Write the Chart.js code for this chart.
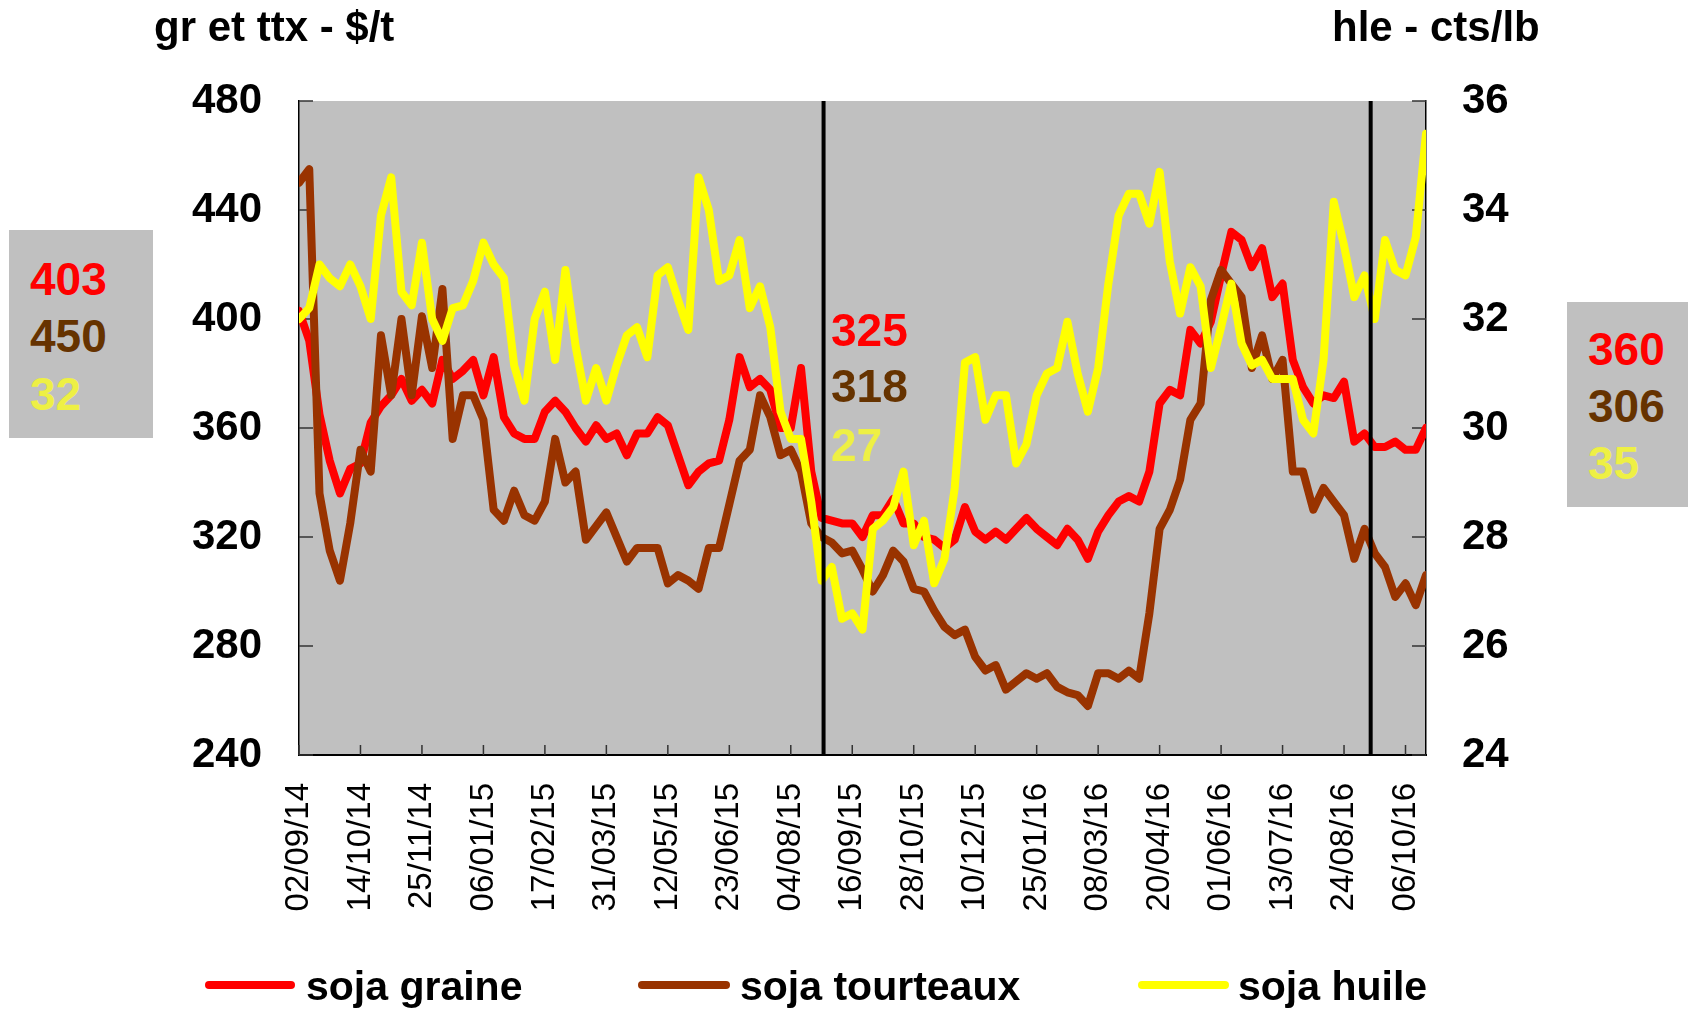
<!DOCTYPE html>
<html>
<head>
<meta charset="utf-8">
<script src="https://cdn.jsdelivr.net/npm/chart.js@4.4.0/dist/chart.umd.min.js"></script>
<style>
  body { margin: 0; background: #fff; font-family: 'Liberation Sans', Arial, sans-serif; }
  #wrap { position: relative; width: 1688px; height: 1010px; overflow: hidden; }
  canvas { position: absolute; left: 0; top: 0; }
  .t { position: absolute; font-weight: bold; line-height: 1; white-space: nowrap; }
  .title { font-size: 42px; color: #000; }
  .val { font-size: 46px; }
  .box { position: absolute; background: #c0c0c0; }
  .sw { position: absolute; height: 8px; border-radius: 4px; }
  .leg { font-size: 41px; color: #000; }
</style>
</head>
<body>
<div id="wrap">
  <canvas id="c" width="1688" height="1010"></canvas>
  <div class="box" style="left:9px;top:230px;width:144px;height:208px"></div>
  <div class="box" style="left:1567px;top:302px;width:121px;height:205px"></div>
  <div class="t title" style="left:154px;top:6px">gr et ttx - $/t</div>
  <div class="t title" style="left:1332px;top:6px">hle - cts/lb</div>
  <div id="labels"></div>
  <div class="sw" style="left:205px;top:981px;width:90px;background:#ff0000"></div>
  <div class="t leg" style="left:306px;top:966px">soja graine</div>
  <div class="sw" style="left:638px;top:981px;width:92px;background:#993300"></div>
  <div class="t leg" style="left:740px;top:966px">soja tourteaux</div>
  <div class="sw" style="left:1138px;top:981px;width:91px;background:#ffff00"></div>
  <div class="t leg" style="left:1238px;top:966px">soja huile</div>
</div>
<script>
// business-day index, one tick label every 30 sessions
const tickLabels = ['02/09/14', '14/10/14', '25/11/14', '06/01/15', '17/02/15', '31/03/15', '12/05/15',
  '23/06/15', '04/08/15', '16/09/15', '28/10/15', '10/12/15', '25/01/16', '08/03/16', '20/04/16',
  '01/06/16', '13/07/16', '24/08/16', '06/10/16'];
const step = 5; // one value read every 5 sessions
const lastIdx = 550;

// soja graine - $/t
const graine = [403, 392, 365, 348, 336, 345, 347, 362, 368, 372,
  378, 370, 374, 369, 385, 378, 381, 385, 372, 386,
  364, 358, 356, 356, 366, 370, 366, 360, 355, 361,
  356, 358, 350, 358, 358, 364, 361, 350, 339, 344,
  347, 348, 363, 386, 375, 378, 374, 360, 360, 382,
  344, 327, 326, 325, 325, 320, 328, 328, 334, 325,
  325, 320, 319, 316, 319, 331, 322, 319, 322, 319,
  323, 327, 323, 320, 317, 323, 319, 312, 322, 328,
  333, 335, 333, 344, 369, 374, 372, 396, 391, 399,
  416, 432, 429, 419, 426, 408, 413, 385, 375, 369,
  372, 371, 377, 355, 358, 353, 353, 355, 352, 352,
  360];

// soja tourteaux - $/t
const tourteaux = [450, 455, 336, 315, 304, 325, 352, 344, 394, 372,
  400, 372, 401, 382, 411, 356, 372, 372, 363, 330,
  326, 337, 328, 326, 333, 356, 340, 344, 319, 324,
  329, 320, 311, 316, 316, 316, 303, 306, 304, 301,
  316, 316, 332, 348, 352, 372, 364, 350, 352, 344,
  325, 320, 318, 314, 315, 308, 300, 306, 315, 311,
  301, 300, 293, 287, 284, 286, 276, 271, 273, 264,
  267, 270, 268, 270, 265, 263, 262, 258, 270, 270,
  268, 271, 268, 292, 323, 330, 341, 363, 369, 407,
  418, 413, 408, 382, 394, 378, 385, 344, 344, 330,
  338, 333, 328, 312, 323, 314, 309, 298, 303, 295,
  306];

// soja huile - cts/lb
const huile = [32.0, 32.2, 33.0, 32.75, 32.6, 33.0, 32.6, 32.0, 33.9, 34.6,
  32.5, 32.25, 33.4, 32.0, 31.6, 32.2, 32.25, 32.7, 33.4, 33.0,
  32.75, 31.15, 30.5, 32.0, 32.5, 31.25, 32.9, 31.5, 30.5, 31.1,
  30.5, 31.15, 31.7, 31.85, 31.3, 32.8, 32.95, 32.35, 31.8, 34.6,
  34.0, 32.7, 32.8, 33.45, 32.2, 32.6, 31.85, 30.3, 29.8, 29.8,
  28.65, 27.2, 27.45, 26.5, 26.6, 26.3, 28.15, 28.3, 28.55, 29.2,
  27.85, 28.3, 27.15, 27.6, 28.9, 31.2, 31.3, 30.15, 30.6, 30.6,
  29.35, 29.7, 30.6, 31.0, 31.1, 31.95, 31.0, 30.3, 31.1, 32.65,
  33.9, 34.3, 34.3, 33.75, 34.7, 33.05, 32.1, 32.95, 32.6, 31.1,
  31.85, 32.65, 31.55, 31.15, 31.25, 30.9, 30.9, 30.9, 30.15, 29.9,
  31.25, 34.15, 33.35, 32.4, 32.8, 32.0, 33.45, 32.9, 32.8, 33.5,
  35.4];

// start of campaigns (session index)
const eventIdx = [256, 523];

// values printed beside the chart: start, campaign start, last
const startVals = ['403', '450', '32'];
const midVals = ['325', '318', '27'];
const endVals = ['360', '306', '35'];
const valColors = ['#ff0000', '#663300', '#eef044'];

const labelsDiv = document.getElementById('labels');
const addVals = (vals, left, tops) => {
  vals.forEach((v, k) => {
    const d = document.createElement('div');
    d.className = 't val';
    d.style.left = left + 'px';
    d.style.top = tops[k] + 'px';
    d.style.color = valColors[k];
    d.textContent = v;
    labelsDiv.appendChild(d);
  });
};
addVals(startVals, 30, [256, 313, 371]);
addVals(midVals, 831, [307, 363, 422]);
addVals(endVals, 1588, [326, 383, 440]);

const toPoints = (arr) => arr.map((v, k) => ({ x: Math.min(k * step, lastIdx), y: v }));

const FONT = "'Liberation Sans', Arial, sans-serif";

const decor = {
  id: 'decor',
  beforeDraw(chart) {
    const { ctx, chartArea: a } = chart;
    ctx.save();
    ctx.fillStyle = '#c0c0c0';
    ctx.fillRect(a.left, a.top, a.right - a.left, a.bottom - a.top);
    ctx.restore();
  },
  beforeDatasetsDraw(chart) {
    const { ctx, chartArea: a, scales } = chart;
    ctx.save();
    ctx.strokeStyle = '#333';
    ctx.lineWidth = 1.5;
    ctx.beginPath();
    scales.y.ticks.forEach((t) => {
      const py = scales.y.getPixelForValue(t.value);
      ctx.moveTo(a.left, py);
      ctx.lineTo(a.left + 14, py);
    });
    scales.y1.ticks.forEach((t) => {
      const py = scales.y1.getPixelForValue(t.value);
      ctx.moveTo(a.right, py);
      ctx.lineTo(a.right - 14, py);
    });
    scales.x.ticks.forEach((t) => {
      const px = scales.x.getPixelForValue(t.value);
      ctx.moveTo(px, a.bottom);
      ctx.lineTo(px, a.bottom - 10);
    });
    ctx.stroke();
    ctx.restore();
  },
  afterDatasetsDraw(chart) {
    const { ctx, chartArea: a, scales } = chart;
    ctx.save();
    ctx.strokeStyle = '#000';
    ctx.lineWidth = 4;
    eventIdx.forEach((i) => {
      const px = scales.x.getPixelForValue(i);
      ctx.beginPath();
      ctx.moveTo(px, a.top);
      ctx.lineTo(px, a.bottom);
      ctx.stroke();
    });
    ctx.restore();
  },
};

const lineStyle = { borderWidth: 8, tension: 0, borderJoinStyle: 'round', borderCapStyle: 'round', fill: false, pointRadius: 0 };

new Chart(document.getElementById('c'), {
  type: 'line',
  data: {
    datasets: [
      { label: 'soja graine', data: toPoints(graine), borderColor: '#ff0000', yAxisID: 'y', order: 3, ...lineStyle },
      { label: 'soja tourteaux', data: toPoints(tourteaux), borderColor: '#993300', yAxisID: 'y', order: 2, ...lineStyle },
      { label: 'soja huile', data: toPoints(huile), borderColor: '#ffff00', yAxisID: 'y1', order: 1, ...lineStyle },
    ],
  },
  options: {
    responsive: false,
    animation: false,
    layout: { padding: { top: 101, left: 0, right: 0, bottom: 0 } },
    plugins: { legend: { display: false }, tooltip: { enabled: false } },
    scales: {
      x: {
        type: 'linear',
        min: 0,
        max: lastIdx,
        afterBuildTicks: (s) => {
          s.ticks = tickLabels.map((_, k) => ({ value: k * 30 }));
        },
        afterFit: (s) => {
          s.height = 255;
        },
        grid: { display: true, drawOnChartArea: false, drawTicks: false },
        border: { color: '#000', width: 2 },
        ticks: {
          autoSkip: false,
          minRotation: 90,
          maxRotation: 90,
          padding: 28,
          color: '#000',
          font: { family: FONT, size: 33 },
          callback: (v) => tickLabels[Math.round(v / 30)],
        },
      },
      y: {
        position: 'left',
        min: 240,
        max: 480,
        afterFit: (s) => {
          s.width = 299;
        },
        grid: { display: true, drawOnChartArea: false, drawTicks: false },
        border: { color: '#000', width: 1.5 },
        ticks: { stepSize: 40, padding: 37, color: '#000', font: { family: FONT, size: 42, weight: 'bold' } },
      },
      y1: {
        position: 'right',
        min: 24,
        max: 36,
        afterFit: (s) => {
          s.width = 262;
        },
        grid: { display: true, drawOnChartArea: false, drawTicks: false },
        border: { color: '#000', width: 1.5 },
        ticks: { stepSize: 2, padding: 36, color: '#000', font: { family: FONT, size: 42, weight: 'bold' } },
      },
    },
  },
  plugins: [decor],
});
</script>
</body>
</html>
